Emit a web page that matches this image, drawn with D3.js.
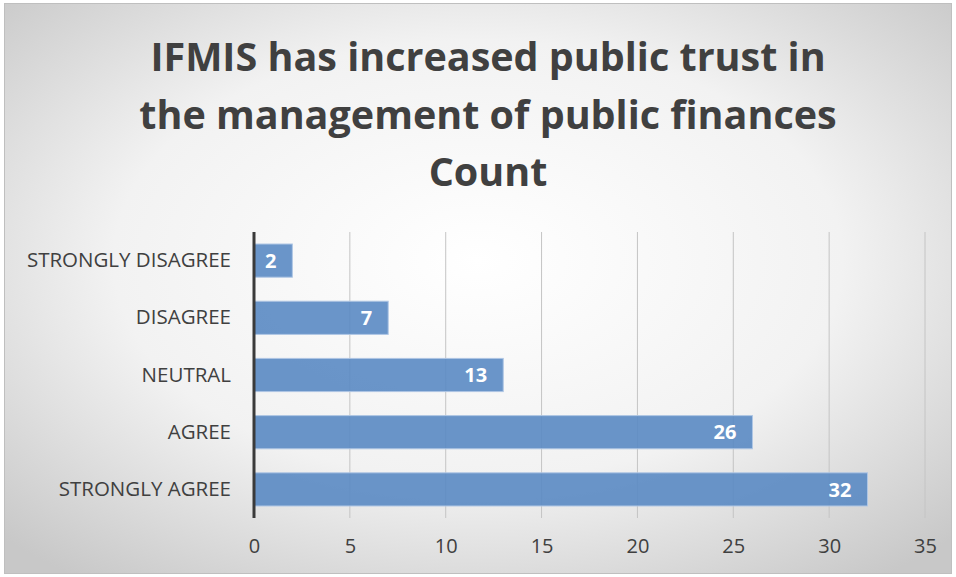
<!DOCTYPE html>
<html>
<head>
<meta charset="utf-8">
<script src="https://cdn.jsdelivr.net/npm/d3@7"></script>
<style>
  html, body { margin: 0; padding: 0; background: #ffffff; }
  svg { display: block; }
</style>
</head>
<body>
<svg id="chart" width="956" height="577"></svg>
<script>
// Survey responses
const categories = ["STRONGLY DISAGREE", "DISAGREE", "NEUTRAL", "AGREE", "STRONGLY AGREE"];
const counts = [2, 7, 13, 26, 32];
const tickValues = [0, 5, 10, 15, 20, 25, 30, 35];
const titleLines = ["IFMIS has increased public trust in", "the management of public finances", "Count"];

const W = 956, H = 577;
const svg = d3.select("#chart");

// Chart area background: light centre fading to grey edges
const defs = svg.append("defs");
const grad = defs.append("radialGradient")
  .attr("id", "bg").attr("cx", "50%").attr("cy", "45%").attr("r", "70%");
grad.append("stop").attr("offset", "0%").attr("stop-color", "#ffffff");
grad.append("stop").attr("offset", "55%").attr("stop-color", "#f2f2f2");
grad.append("stop").attr("offset", "100%").attr("stop-color", "#c8c8c8");

svg.append("rect")
  .attr("x", 4.5).attr("y", 3.5).attr("width", W - 9).attr("height", H - 7)
  .attr("fill", "url(#bg)").attr("stroke", "#bfbfbf").attr("stroke-width", 1);

const margin = { left: 254, right: 31, top: 232, bottom: 59 };
const x = d3.scaleLinear().domain([0, 35]).range([margin.left, W - margin.right]);
const y = d3.scaleBand().domain(categories).range([margin.top, H - margin.bottom]).paddingInner(0.42).paddingOuter(0.21);

// Gridlines
svg.append("g")
  .selectAll("line")
  .data(tickValues.filter(d => d > 0))
  .join("line")
  .attr("x1", d => x(d)).attr("x2", d => x(d))
  .attr("y1", margin.top).attr("y2", H - margin.bottom)
  .attr("stroke", "#c4c4c4").attr("stroke-width", 1);

// Bars
svg.append("g")
  .selectAll("rect")
  .data(categories)
  .join("rect")
  .attr("x", x(0))
  .attr("y", d => y(d))
  .attr("width", (d, i) => x(counts[i]) - x(0))
  .attr("height", y.bandwidth())
  .attr("fill", "#5a8ac3")
  .attr("fill-opacity", 0.9)
  .attr("stroke", "#afc6e4").attr("stroke-width", 1);

// Value labels inside bar ends
svg.append("g")
  .selectAll("text")
  .data(categories)
  .join("text")
  .attr("x", (d, i) => x(counts[i]) - 16)
  .attr("y", d => y(d) + y.bandwidth() / 2)
  .attr("dy", "0.36em")
  .attr("text-anchor", "end")
  .attr("font-family", "'Open Sans', sans-serif")
  .attr("font-weight", "bold")
  .attr("font-size", 20)
  .attr("fill", "#ffffff")
  .text((d, i) => counts[i]);

// Bottom axis (labels only)
const xAxis = svg.append("g")
  .attr("transform", `translate(0,${H - margin.bottom})`)
  .call(d3.axisBottom(x).tickValues(tickValues).tickSize(0).tickPadding(21));
xAxis.select(".domain").remove();
xAxis.selectAll("text")
  .attr("font-family", "'Open Sans', sans-serif")
  .attr("font-size", 20)
  .attr("fill", "#404040");

// Left axis: category labels and a heavy baseline
const yAxis = svg.append("g")
  .attr("transform", `translate(${x(0)},0)`)
  .call(d3.axisLeft(y).tickSize(0).tickPadding(23));
yAxis.select(".domain").remove();
yAxis.selectAll("text")
  .attr("font-family", "'Open Sans', sans-serif")
  .attr("font-size", 20.5)
  .attr("fill", "#404040");

svg.append("line")
  .attr("x1", x(0)).attr("x2", x(0))
  .attr("y1", margin.top).attr("y2", H - margin.bottom)
  .attr("stroke", "#3a3a3a").attr("stroke-width", 3);

// Title
svg.append("g")
  .selectAll("text")
  .data(titleLines)
  .join("text")
  .attr("x", 488)
  .attr("y", (d, i) => 71 + i * 57.5)
  .attr("text-anchor", "middle")
  .attr("font-family", "'Open Sans', sans-serif")
  .attr("font-weight", "bold")
  .attr("font-size", 39.5)
  .attr("fill", "#404040")
  .text(d => d);
</script>
</body>
</html>
